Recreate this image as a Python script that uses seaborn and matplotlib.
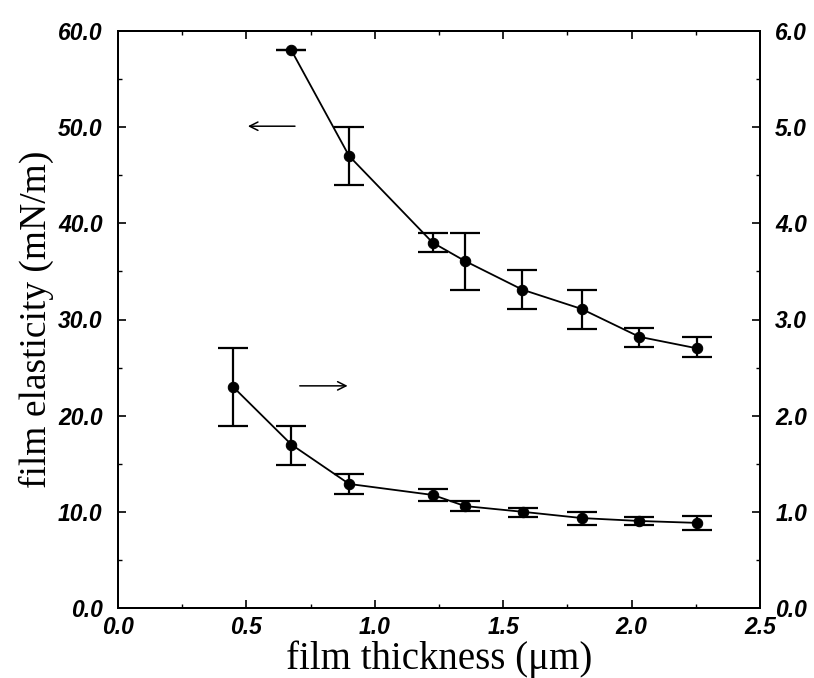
import numpy as np
import pandas as pd
import matplotlib
matplotlib.use("Agg")
import matplotlib.pyplot as plt
from matplotlib.ticker import MultipleLocator, FormatStrFormatter
from matplotlib.font_manager import FontProperties
import seaborn as sns

# ---- data ----
# upper curve, left axis (film elasticity, mN/m)
x_upper = [0.675, 0.90, 1.225, 1.35, 1.575, 1.805, 2.03, 2.255]
y_upper = [58.0, 47.0, 38.0, 36.1, 33.1, 31.1, 28.2, 27.0]
lo_upper = [58.0, 44.0, 37.0, 33.1, 31.1, 29.0, 27.1, 26.1]
hi_upper = [58.0, 50.0, 39.0, 39.0, 35.1, 33.1, 29.1, 28.2]

# lower curve, right axis
x_lower = [0.448, 0.675, 0.90, 1.227, 1.351, 1.577, 1.807, 2.03, 2.255]
y_lower = [2.30, 1.70, 1.29, 1.175, 1.06, 1.00, 0.935, 0.905, 0.885]
lo_lower = [1.89, 1.49, 1.19, 1.11, 1.01, 0.95, 0.86, 0.86, 0.81]
hi_lower = [2.70, 1.89, 1.39, 1.24, 1.11, 1.04, 1.00, 0.95, 0.96]

# arrows (in left-axis data units): start x, end x, y
arrow_left = (0.70, 0.495, 50.1)
arrow_right = (0.697, 0.905, 23.1)

x_label = "film thickness (μm)"
y_label = "film elasticity (mN/m)"

sns.set_style("ticks")
plt.rcParams["font.family"] = ["Liberation Sans", "DejaVu Sans"]
plt.rcParams["text.color"] = "black"
plt.rcParams["axes.labelcolor"] = "black"
plt.rcParams["xtick.color"] = "black"
plt.rcParams["ytick.color"] = "black"

df_up = pd.DataFrame({"x": x_upper, "y": y_upper})
df_lo = pd.DataFrame({"x": x_lower, "y": y_lower})

fig = plt.figure(figsize=(8.14, 6.78), dpi=100)
ax = fig.add_axes([118 / 814, 70 / 678, 642 / 814, 577 / 678])
ax2 = ax.twinx()

line_kw = dict(color="black", linewidth=1.3, marker="o", markersize=7.5,
               markeredgecolor="black", markerfacecolor="black")
err_kw = dict(fmt="none", ecolor="black", elinewidth=1.6, capsize=10.5, capthick=1.6)

sns.lineplot(data=df_up, x="x", y="y", ax=ax, **line_kw)
ax.errorbar(x_upper, y_upper,
            yerr=[np.array(y_upper) - np.array(lo_upper), np.array(hi_upper) - np.array(y_upper)],
            **err_kw)

sns.lineplot(data=df_lo, x="x", y="y", ax=ax2, **line_kw)
ax2.errorbar(x_lower, y_lower,
             yerr=[np.array(y_lower) - np.array(lo_lower), np.array(hi_lower) - np.array(y_lower)],
             **err_kw)

# axes limits & ticks
ax.set_xlim(0, 2.5)
ax.set_ylim(0, 60)
ax2.set_ylim(0, 6)
ax.xaxis.set_major_locator(MultipleLocator(0.5))
ax.xaxis.set_minor_locator(MultipleLocator(0.25))
ax.yaxis.set_major_locator(MultipleLocator(10))
ax.yaxis.set_minor_locator(MultipleLocator(5))
ax2.yaxis.set_major_locator(MultipleLocator(1))
ax2.yaxis.set_minor_locator(MultipleLocator(0.5))
fmt = FormatStrFormatter("%.1f")
ax.xaxis.set_major_formatter(fmt)
ax.yaxis.set_major_formatter(fmt)
ax2.yaxis.set_major_formatter(fmt)

ax.tick_params(axis="both", which="both", direction="in", top=True, right=False, color="black")
ax.tick_params(axis="both", which="major", length=6, width=1.2)
ax.tick_params(axis="both", which="minor", length=3, width=1.0)
ax.tick_params(axis="x", which="major", pad=6)
ax.tick_params(axis="y", which="major", pad=11)
ax2.tick_params(axis="y", which="both", direction="in", color="black")
ax2.tick_params(axis="y", which="major", length=6, width=1.2, pad=11)
ax2.tick_params(axis="y", which="minor", length=3, width=1.0)

tick_font = FontProperties(family="Liberation Sans", weight="bold", style="italic", size=16.5)
for lab in ax.get_xticklabels() + ax.get_yticklabels() + ax2.get_yticklabels():
    lab.set_fontproperties(tick_font)
    lab.set_color("black")

for a in (ax, ax2):
    for s in a.spines.values():
        s.set_visible(True)
        s.set_linewidth(1.4)
        s.set_color("black")

ax.set_xlabel(x_label, fontfamily="Liberation Serif", fontsize=28, labelpad=1, color="black")
ax.set_ylabel(y_label, fontfamily="Liberation Serif", fontsize=27, labelpad=3, color="black")
ax2.set_ylabel("")

# arrows
for (x0, x1, yy) in (arrow_left, arrow_right):
    ax.annotate("", xy=(x1, yy), xytext=(x0, yy),
                arrowprops=dict(arrowstyle="->", color="black", lw=1.1, mutation_scale=15))

fig.savefig("out.png", dpi=100)
